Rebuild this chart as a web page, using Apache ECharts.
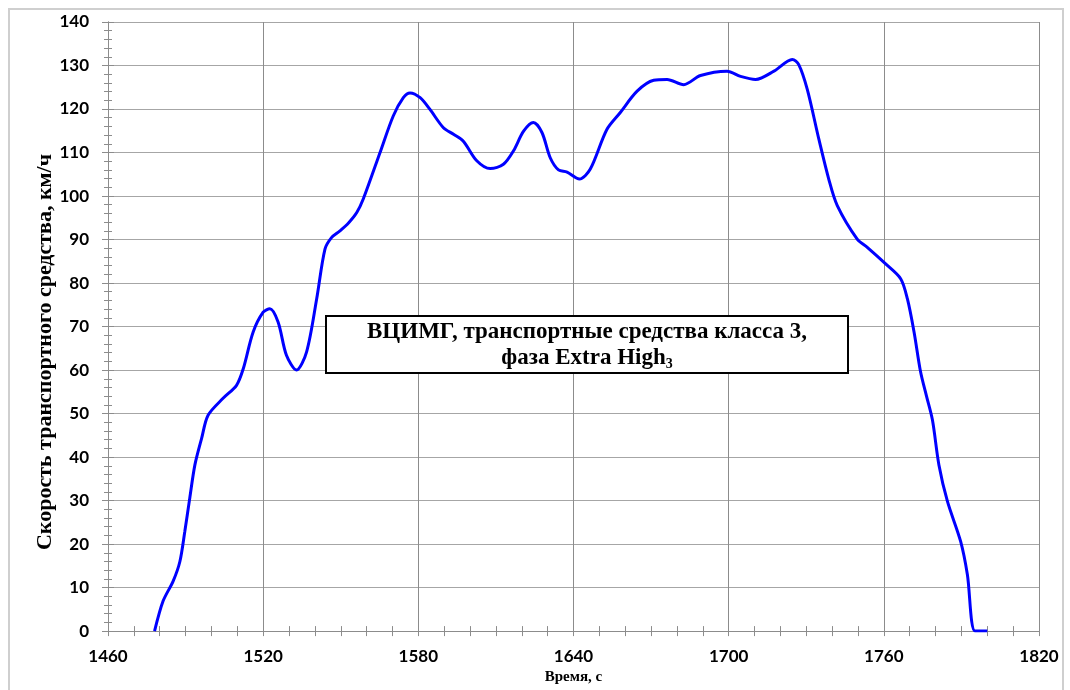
<!DOCTYPE html>
<html>
<head>
<meta charset="utf-8">
<script src="https://cdn.jsdelivr.net/npm/echarts@6/dist/echarts.min.js"></script>
<style>html,body{margin:0;padding:0;background:#fff;}#chart{width:1070px;height:690px;}</style>
</head>
<body>
<div id="chart"></div>
<script>
const timeS = [1478, 1481.3, 1485.2, 1487.8, 1489.7, 1491.6, 1493.6, 1496.2, 1498.7, 1504.5,
  1509.7, 1512.3, 1516.1, 1520, 1522.6, 1525.8, 1529, 1532.9, 1536.8, 1540.7,
  1543.9, 1546.5, 1549.7, 1553, 1556.2, 1558.7, 1565.2, 1570.3, 1574.2, 1576.8, 1580.7,
  1584.5, 1589.7, 1593.6, 1597.4, 1602.6, 1607.8, 1612.9, 1616.8, 1620.7, 1624.5,
  1627.8, 1631, 1634.2, 1637.5, 1642.3, 1646.5, 1652.9, 1658.1, 1664.6, 1671,
  1676.2, 1682.6, 1689.1, 1699.4, 1704.6, 1710.4, 1717.5, 1724.6, 1727.1, 1730.4,
  1734.9, 1738.7, 1742, 1749.7, 1753.6, 1760.7, 1766.5, 1769.1, 1771.7, 1774.2,
  1776.5, 1778.8, 1781.3, 1784.6, 1789.7, 1792.3, 1795.3, 1800];
const speedKmh = [0, 6.9, 11.5, 16, 22.9, 30.5, 38.2, 44.3, 49.6, 53.5,
  56.5, 60.3, 68.7, 73.3, 74.1, 71, 63.4, 60, 64.2, 76.4,
  87.8, 90.5, 92, 93.8, 96.2, 99.3, 110, 118.4, 122.6, 123.7, 122.6,
  119.9, 115.7, 114.2, 112.6, 108.1, 106.3, 107.3, 110.4, 114.9, 116.9,
  114.6, 108.8, 106, 105.5, 103.9, 106.2, 115.3, 119.2, 124.1, 126.6,
  126.8, 125.6, 127.7, 128.7, 127.5, 126.8, 128.7, 131.4, 130.2, 124.5,
  113, 103.9, 97.8, 90.1, 88.2, 84.4, 81, 76.4, 68.7, 59.6,
  54, 48.5, 38.2, 29.8, 20.6, 13, 0, 0];
const xRange = [1460, 1820, 60];
const yRange = [0, 140, 10];
const xTitle = 'Время, с';
const yTitle = 'Скорость транспортного средства, км/ч';
const boxLine1 = 'ВЦИМГ, транспортные средства класса 3,';
const boxLine2a = 'фаза Extra High';
const boxLine2b = '3';

const points = timeS.map((t, i) => [t, speedKmh[i]]);
const axisGray = '#8c8c8c';

function xAx(primary) {
  return {
    type: 'value', min: xRange[0], max: xRange[1], interval: xRange[2],
    position: 'bottom',
    name: primary ? xTitle : '', nameLocation: 'middle', nameGap: 34,
    nameTextStyle: {fontFamily: 'Liberation Serif', fontWeight: 'bold', fontSize: 15, color: '#000'},
    axisLine: {show: true, lineStyle: {color: axisGray, width: 1}},
    axisTick: {show: true, inside: !primary, length: 5, lineStyle: {color: axisGray}},
    minorTick: {show: true, splitNumber: 6, length: 5, lineStyle: {color: axisGray}},
    axisLabel: {show: primary, margin: 17, fontFamily: 'Lato', fontWeight: 'bold', fontSize: 17, color: '#000',
      formatter: v => String(v), showMinLabel: true, showMaxLabel: true},
    splitLine: {show: primary, lineStyle: {color: '#8c8c8c', width: 1}},
    minorSplitLine: {show: false}
  };
}
function yAx(primary) {
  return {
    type: 'value', min: yRange[0], max: yRange[1], interval: yRange[2],
    position: 'left',
    axisLine: {show: true, lineStyle: {color: axisGray, width: 1}},
    axisTick: {show: true, inside: !primary, length: 6, lineStyle: {color: axisGray}},
    minorTick: {show: true, splitNumber: 5, length: 4, lineStyle: {color: axisGray}},
    axisLabel: {show: primary, margin: 19, fontFamily: 'Lato', fontWeight: 'bold', fontSize: 17, color: '#000',
      formatter: v => String(v)},
    splitLine: {show: primary, lineStyle: {color: '#a6a6a6', width: 1}},
    minorSplitLine: {show: false}
  };
}

const chart = echarts.init(document.getElementById('chart'), null, {renderer: 'canvas'});
chart.setOption({
  animation: false,
  backgroundColor: '#fff',
  grid: {left: 108, right: 31, top: 22, bottom: 55, containLabel: false},
  xAxis: [xAx(true), xAx(false)],
  yAxis: [yAx(true), yAx(false)],
  series: [{
    type: 'line', data: points, xAxisIndex: 0, yAxisIndex: 0,
    showSymbol: false, smooth: 0.3,
    lineStyle: {color: '#0000ff', width: 3},
    z: 5
  }],
  graphic: [
    {type: 'rect', x: 9, y: 9, shape: {width: 1054, height: 700},
      style: {fill: 'none', stroke: '#cfcfcf', lineWidth: 2}, silent: true, z: 0},
    {type: 'text', x: 45, y: 352, rotation: Math.PI / 2, z: 11,
      style: {
        x: 0, y: 0, align: 'center', verticalAlign: 'middle', text: yTitle,
        fontFamily: 'Liberation Serif', fontWeight: 'bold', fontSize: 22, fill: '#000'
      }},
    {type: 'rect', x: 326, y: 316, shape: {width: 522, height: 57},
      style: {fill: '#fff', stroke: '#000', lineWidth: 2}, z: 10},
    {type: 'text', x: 587, y: 345, z: 11,
      style: {
        x: 0, y: 0, align: 'center', verticalAlign: 'middle',
        text: boxLine1 + '\n{n|' + boxLine2a + '}{s|' + boxLine2b + '}',
        fontFamily: 'Liberation Serif', fontWeight: 'bold', fontSize: 23, lineHeight: 26, fill: '#000',
        rich: {
          n: {fontFamily: 'Liberation Serif', fontWeight: 'bold', fontSize: 23, lineHeight: 26, fill: '#000'},
          s: {fontFamily: 'Liberation Serif', fontWeight: 'bold', fontSize: 14, lineHeight: 26, fill: '#000', padding: [12, 0, 0, 0], verticalAlign: 'bottom'}
        }
      }}
  ]
});
</script>
</body>
</html>
